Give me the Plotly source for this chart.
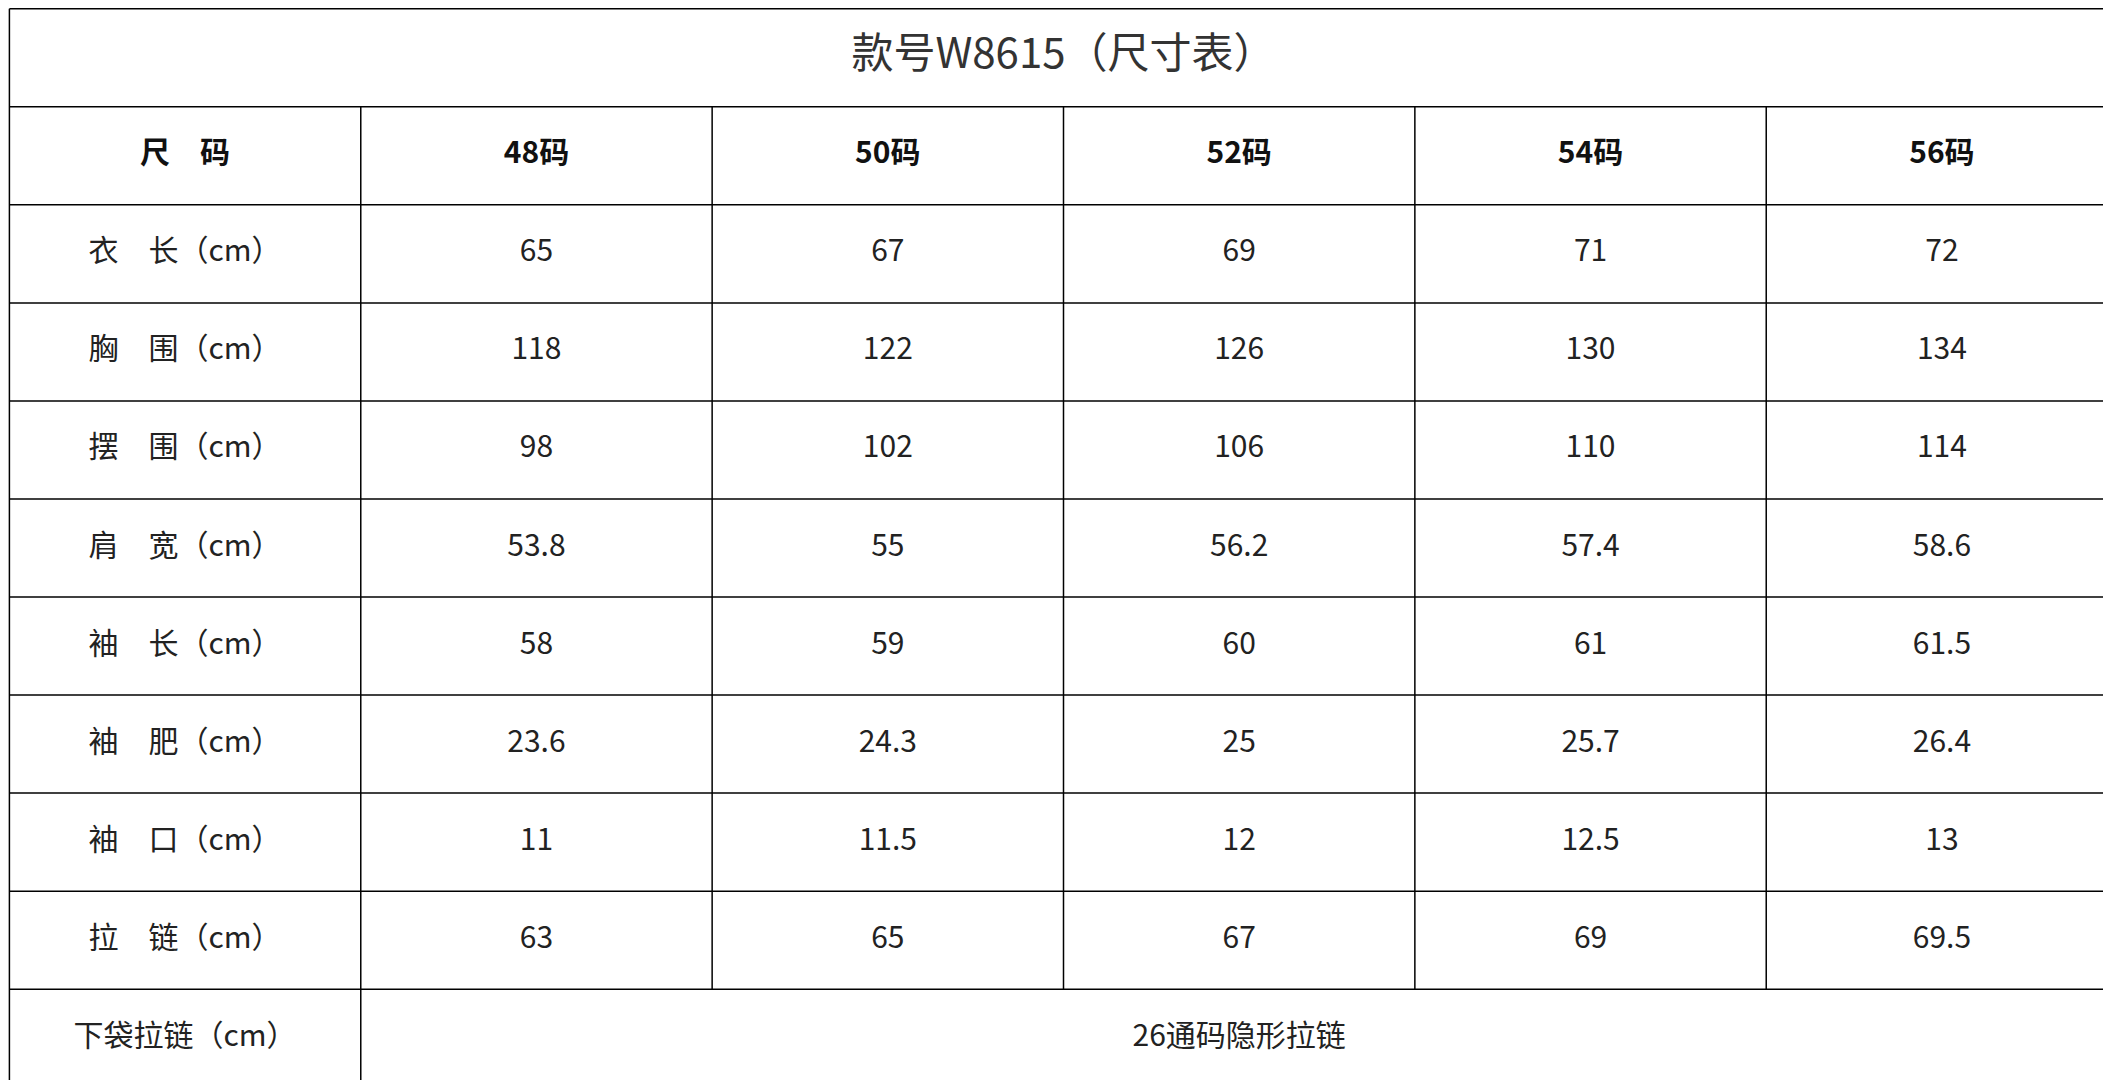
import plotly.graph_objects as go

title = "款号W8615（尺寸表）"
header = ["尺　码", "48码", "50码", "52码", "54码", "56码"]
row_labels = ["衣　长（cm）", "胸　围（cm）", "摆　围（cm）", "肩　宽（cm）",
              "袖　长（cm）", "袖　肥（cm）", "袖　口（cm）", "拉　链（cm）"]
values = [
    ["65", "67", "69", "71", "72"],
    ["118", "122", "126", "130", "134"],
    ["98", "102", "106", "110", "114"],
    ["53.8", "55", "56.2", "57.4", "58.6"],
    ["58", "59", "60", "61", "61.5"],
    ["23.6", "24.3", "25", "25.7", "26.4"],
    ["11", "11.5", "12", "12.5", "13"],
    ["63", "65", "67", "69", "69.5"],
]
last_label = "下袋拉链（cm）"
last_value = "26通码隐形拉链"

ncol = len(header)
nrow = 2 + len(row_labels) + 1
FONT = "Noto Sans CJK SC"
fig = go.Figure()

xs, ys, ts = [], [], []
for i, (lab, vals) in enumerate(zip(row_labels, values)):
    r = i + 2
    xs.append(0.5); ys.append(r + 0.5); ts.append(lab)
    for j, v in enumerate(vals):
        xs.append(j + 1.5); ys.append(r + 0.5); ts.append(v)
xs += [0.5, ncol / 2 + 0.5]; ys += [nrow - 0.5, nrow - 0.5]; ts += [last_label, last_value]
fig.add_trace(go.Scatter(x=xs, y=ys, text=ts, mode="text",
                         textfont=dict(family=FONT, size=30, color="#222"), hoverinfo="skip"))
fig.add_trace(go.Scatter(x=[j + 0.5 for j in range(ncol)], y=[1.5] * ncol,
                         text=[f"<b>{h}</b>" for h in header], mode="text",
                         textfont=dict(family=FONT, size=30, color="#111"), hoverinfo="skip"))
fig.add_trace(go.Scatter(x=[ncol / 2], y=[0.5], text=[title], mode="text",
                         textfont=dict(family=FONT, size=42, color="#333"), hoverinfo="skip"))

line = dict(color="#000", width=1.5)
for r in range(nrow + 1):
    fig.add_shape(type="line", x0=0, x1=ncol, y0=r, y1=r, line=line)
fig.add_shape(type="line", x0=0, x1=0, y0=0, y1=nrow, line=line)
fig.add_shape(type="line", x0=ncol, x1=ncol, y0=0, y1=nrow, line=line)
fig.add_shape(type="line", x0=1, x1=1, y0=1, y1=nrow, line=line)
for c in range(2, ncol):
    fig.add_shape(type="line", x0=c, x1=c, y0=1, y1=nrow - 1, line=line)

eps = 0.004
fig.update_xaxes(range=[-eps, ncol + eps], visible=False, fixedrange=True)
fig.update_yaxes(range=[nrow + eps * 2, -eps * 2], visible=False, fixedrange=True)
fig.update_layout(width=2111, height=1080, margin=dict(l=0, r=0, t=0, b=0),
                  plot_bgcolor="white", paper_bgcolor="white", showlegend=False)
fig.write_html("out.html")
